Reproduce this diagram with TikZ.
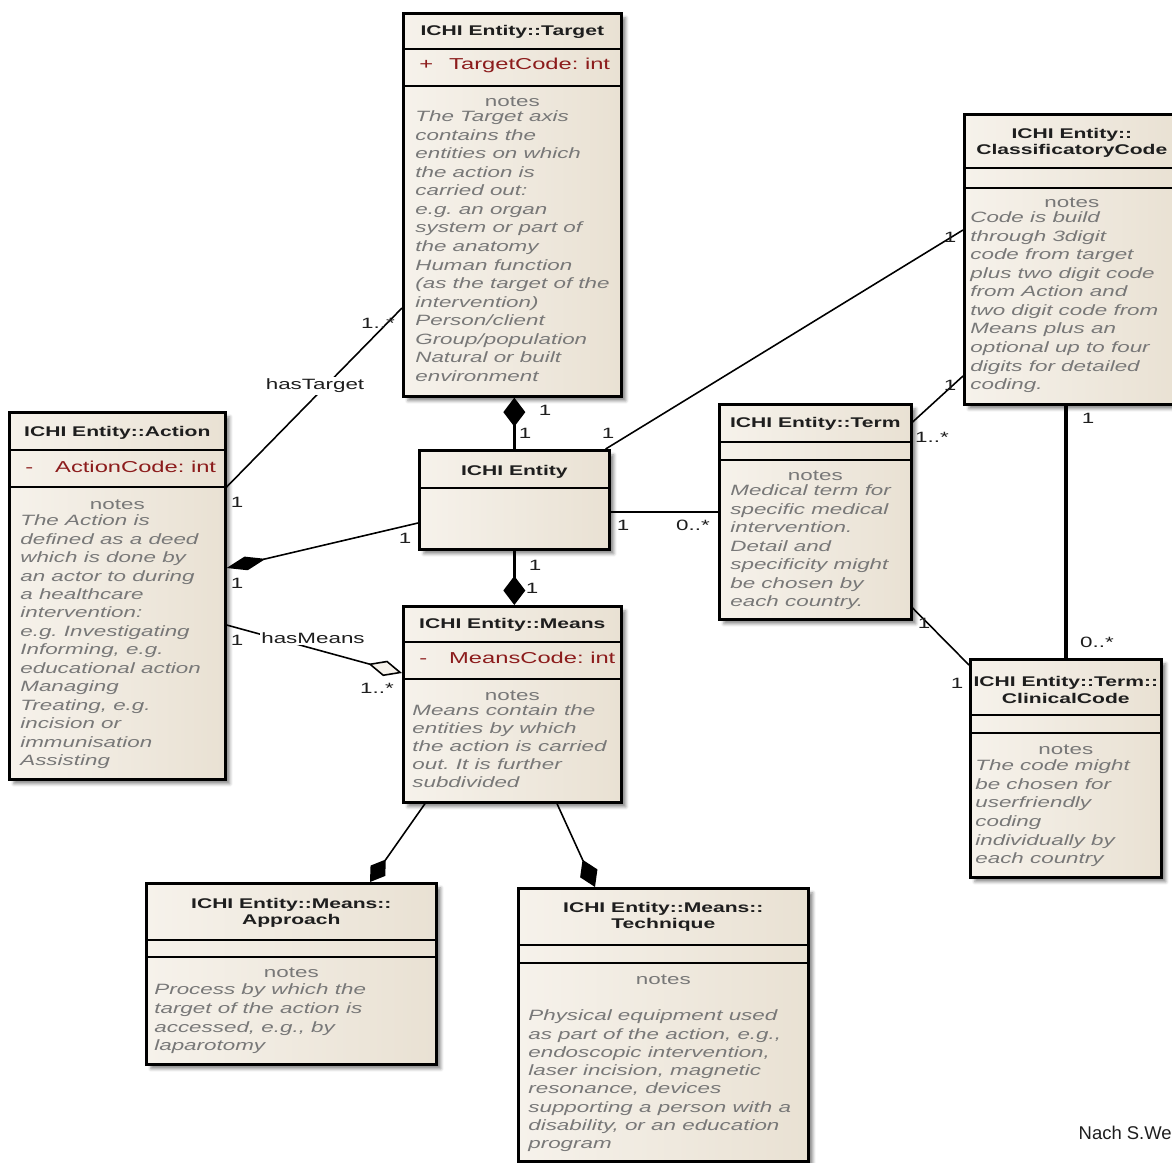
\documentclass[tikz,border=0pt]{standalone}
\usepackage{fontspec}
\setmainfont{Liberation Sans}[FakeStretch=1.5]
\newfontfamily\footfont{Liberation Sans}
\usetikzlibrary{arrows.meta,calc,shadows.blur}
\frenchspacing

\definecolor{boxlight}{RGB}{246,242,235}
\definecolor{boxdark}{RGB}{233,225,211}
\definecolor{notegray}{RGB}{120,120,120}
\definecolor{attrred}{RGB}{140,28,28}
\definecolor{inkgray}{RGB}{30,30,30}

\tikzset{
      classbox/.style={draw=black, line width=1.5pt, left color=boxlight, right color=boxdark,
                  anchor=north west, inner sep=0pt,
                  blur shadow={shadow xshift=0.09cm, shadow yshift=-0.09cm, shadow blur radius=0.06cm, shadow opacity=45}},
      sep/.style={line width=1.3pt},
      classtitle/.style={font=\bfseries\fontsize{8}{9.5}\selectfont, text=inkgray, align=center, inner sep=0pt},
      attr/.style={font=\fontsize{9}{10}\selectfont, text=attrred, anchor=west, inner sep=0pt},
      notehead/.style={font=\fontsize{8.5}{10}\selectfont, text=notegray, inner sep=0pt},
      note/.style={font=\itshape\fontsize{8.5}{10}\selectfont, text=notegray, anchor=west,
                  inner sep=0pt, text height=6pt, text depth=1.8pt},
      mult/.style={font=\fontsize{8.5}{10}\selectfont, text=inkgray, inner sep=1pt},
      assoc/.style={line width=0.9pt},
      comp/.style={assoc, -{Diamond[length=0.58cm,width=0.44cm]}},
      agg/.style={assoc, -{Diamond[open,length=0.7cm,width=0.32cm,fill=boxlight]}}
}

\begin{document}
\begin{tikzpicture}[x=0.02cm, y=-0.02cm]
      \def\px{0.02cm}
      \clip (0,0) rectangle (1172,1162);

      \node[classbox, minimum width=218*\px, minimum height=383*\px] (tgt) at (402,12) {};
      \node[classbox, minimum width=216*\px, minimum height=367*\px] (act) at (8,411) {};
      \node[classbox, minimum width=190*\px, minimum height=99*\px] (ent) at (418,449) {};
      \node[classbox, minimum width=218*\px, minimum height=196*\px] (mns) at (402,605) {};
      \node[classbox, minimum width=192*\px, minimum height=215*\px] (trm) at (718,403) {};
      \node[classbox, minimum width=215*\px, minimum height=290*\px] (cls) at (963,113) {};
      \node[classbox, minimum width=191*\px, minimum height=218*\px] (clc) at (969,658) {};
      \node[classbox, minimum width=290*\px, minimum height=181*\px] (app) at (145,882) {};
      \node[classbox, minimum width=290*\px, minimum height=273*\px] (tec) at (517,887) {};

      \foreach \bx/\yy in {tgt/37,tgt/74,act/39,act/76,ent/39,mns/37,mns/74,trm/39,trm/57,
                  cls/55,cls/75,clc/57,clc/75,app/58,app/75,tec/58,tec/76} {
                  \draw[sep] ($(\bx.north west)+(0,\yy)$) -- ($(\bx.north east)+(0,\yy)$);
            }

      \foreach \bx/\yy/\ttl in {tgt/20/{ICHI Entity::Target}, act/22/{ICHI Entity::Action},
                  ent/23/{ICHI Entity}, mns/20/{ICHI Entity::Means}, trm/21/{ICHI Entity::Term},
                  cls/30/{ICHI Entity::\\ClassificatoryCode}, clc/32/{ICHI Entity::Term::\\ClinicalCode},
                  app/31/{ICHI Entity::Means::\\Approach}, tec/30/{ICHI Entity::Means::\\Technique}} {
                  \node[classtitle] (\bx-title) at ($(\bx.north)+(0,\yy)$) {\ttl};
            }

      \foreach \bx/\yy/\sg/\nm in {tgt/53/+/TargetCode, act/56/-/ActionCode, mns/53/-/MeansCode} {
                  \node[attr] (\bx-attr) at ($(\bx.north west)+(17,\yy)$) {\makebox[17pt][l]{\sg}\nm: int};
            }

      \foreach \bx/\yy in {tgt/90,act/94,mns/91,trm/73,cls/90,clc/92,app/91,tec/93} {
                  \node[notehead] (\bx-notes) at ($(\bx.north)+(0,\yy)$) {notes};
            }

      \foreach \txt [count=\i] in {{The Target axis},{contains the},{entities on which},{the action is},
                  {carried out:},{e.g. an organ},{system or part of},{the anatomy},{Human function},
                  {(as the target of the},{intervention)},{Person/client},{Group/population},
                  {Natural or built},{environment}} {
                  \node[note] (tgt-l\i) at ($(tgt.north west)+(13,87.45+18.55*\i)$) {\txt};
            }
      \foreach \txt [count=\i] in {{The Action is},{defined as a deed},{which is done by},
                  {an actor to during},{a healthcare},{intervention:},{e.g. Investigating},
                  {Informing, e.g.},{educational action},{Managing},{Treating, e.g.},{incision or},
                  {immunisation},{Assisting}} {
                  \node[note] (act-l\i) at ($(act.north west)+(12,92.55+18.45*\i)$) {\txt};
            }
      \foreach \txt [count=\i] in {{Means contain the},{entities by which},{the action is carried},
                  {out. It is further},{subdivided}} {
                  \node[note] (mns-l\i) at ($(mns.north west)+(10,89+18*\i)$) {\txt};
            }
      \foreach \txt [count=\i] in {{Medical term for},{specific medical},{intervention.},{Detail and},
                  {specificity might},{be chosen by},{each country.}} {
                  \node[note] (trm-l\i) at ($(trm.north west)+(12,70.5+18.5*\i)$) {\txt};
            }
      \foreach \txt [count=\i] in {{Code is build},{through 3digit},{code from target},
                  {plus two digit code},{from Action and},{two digit code from},{Means plus an},
                  {optional up to four},{digits for detailed},{coding.}} {
                  \node[note] (cls-l\i) at ($(cls.north west)+(7,87.45+18.55*\i)$) {\txt};
            }
      \foreach \txt [count=\i] in {{The code might},{be chosen for},{userfriendly},{coding},
                  {individually by},{each country}} {
                  \node[note] (clc-l\i) at ($(clc.north west)+(6,90.4+18.6*\i)$) {\txt};
            }
      \foreach \txt [count=\i] in {{Process by which the},{target of the action is},
                  {accessed, e.g., by},{laparotomy}} {
                  \node[note] (app-l\i) at ($(app.north west)+(9,90.3+18.7*\i)$) {\txt};
            }
      \foreach \txt [count=\i] in {{Physical equipment used},{as part of the action, e.g.,},
                  {endoscopic intervention,},{laser incision, magnetic},{resonance, devices},
                  {supporting a person with a},{disability, or an education},{program}} {
                  \node[note] (tec-l\i) at ($(tec.north west)+(11,111.7+18.3*\i)$) {\txt};
            }

      \draw[comp, line width=1.6pt] (ent.north) -- (ent.north |- tgt.south);
      \draw[comp, line width=1.6pt] (ent.south) -- (ent.south |- mns.north);
      \draw[assoc, -{Diamond[length=0.8cm,width=0.28cm]}] ($(ent.north west)+(0,74)$) -- ($(act.north east)+(0,157)$);
      \draw[assoc] ($(act.north east)+(0,76)$) -- ($(tgt.north west)+(0,296)$);
      \draw[agg] ($(act.north east)+(0,214)$) -- ($(mns.north west)+(0,68)$);
      \draw[assoc] ($(ent.north east)+(-5,0)$) -- ($(cls.north west)+(0,117)$);
      \draw[assoc, line width=1.1pt] ($(ent.north east)+(0,63)$) coordinate (et) -- (et -| trm.west);
      \draw[assoc] ($(trm.north east)+(0,19)$) -- ($(cls.north west)+(0,263)$);
      \draw[assoc] ($(trm.north east)+(0,205)$) -- ($(clc.north west)+(0,7)$);
      \draw[assoc, line width=1.8pt] ($(cls.south west)+(103,0)$) coordinate (cc) -- (cc |- clc.north);
      \draw[assoc, -{Diamond[length=0.55cm,width=0.36cm]}] ($(mns.south west)+(23,0)$) -- ($(app.north west)+(225,0)$);
      \draw[assoc, -{Diamond[length=0.6cm,width=0.38cm]}] ($(mns.south west)+(155,0)$) -- ($(tec.north west)+(78,0)$);

      \node[mult, fill=white] (has-target) at (315,386) {hasTarget};
      \node[mult, fill=white] (has-means) at (313,638) {hasMeans};

      \foreach \x/\yy/\txt [count=\i] in {545/410/1, 525/433/1, 608/433/1, 405/538/1, 237/502/1,
                  378/323/1..*, 237/583/1, 237/640/1, 377/688/1..*, 535/565/1, 532/588/1,
                  623/525/1, 693/525/0..*, 950/237/1, 950/385/1, 932/437/1..*, 924/623/1,
                  957/683/1, 1088/418/1, 1097/642/0..*} {
                  \node[mult] (m\i) at (\x,\yy) {\txt};
            }

      \node[font={\footfont\fontsize{10.5}{12}\selectfont}, text=inkgray, anchor=east, inner sep=0pt] (source) at (1172,1133) {Nach S.We};
\end{tikzpicture}
\end{document}
